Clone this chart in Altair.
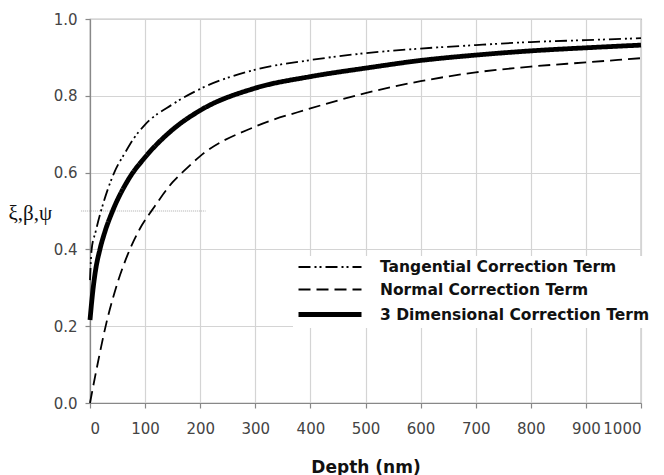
import altair as alt
import pandas as pd

# Tangential correction term (xi)
tang_depth = [0, 3, 10, 20, 44, 65, 80, 100, 150, 200, 300, 400, 500, 600, 700, 800, 900, 1000]
tang_val = [0.32, 0.40, 0.445, 0.50, 0.60, 0.655, 0.69, 0.725, 0.778, 0.818, 0.868, 0.893, 0.911, 0.923, 0.932, 0.940, 0.945, 0.950]

# Normal correction term (beta)
norm_depth = [0, 15, 30, 45, 68, 91, 114, 150, 171, 200, 300, 400, 500, 600, 700, 800, 900, 1000]
norm_val = [0.0, 0.11, 0.21, 0.29, 0.385, 0.455, 0.505, 0.575, 0.605, 0.643, 0.72, 0.767, 0.807, 0.838, 0.861, 0.876, 0.887, 0.898]

# 3 dimensional correction term (psi)
three_depth = [0, 5, 10, 18, 28, 41, 71, 100, 150, 200, 300, 400, 500, 600, 700, 800, 900, 1000]
three_val = [0.216, 0.29, 0.345, 0.40, 0.45, 0.50, 0.585, 0.64, 0.712, 0.762, 0.82, 0.85, 0.872, 0.892, 0.906, 0.917, 0.925, 0.932]

series_names = ["Tangential Correction Term", "Normal Correction Term", "3 Dimensional Correction Term"]

x_ticks = [0, 100, 200, 300, 400, 500, 600, 700, 800, 900, 1000]
y_ticks = [0.0, 0.2, 0.4, 0.6, 0.8, 1.0]

# faint leader line at 0.5
leader_x = [-16, 210]
leader_y = [0.5, 0.5]

rows = []
for name, xs, ys in zip(series_names, [tang_depth, norm_depth, three_depth], [tang_val, norm_val, three_val]):
    for xv, yv in zip(xs, ys):
        rows.append({"series": name, "depth": xv, "value": yv})
df = pd.DataFrame(rows)

leader_df = pd.DataFrame({"x": [leader_x[0]], "x2": [leader_x[1]], "y": [leader_y[0]]})

font = "DejaVu Sans"

xscale = alt.Scale(domain=[0, 1000], nice=False, zero=False)
yscale = alt.Scale(domain=[0, 1.0], nice=False)

legend = alt.Legend(title=None, orient="none", legendX=203, legendY=237,
                    symbolType="M-1,0H8", symbolSize=196, symbolStrokeColor="black",
                    labelFont=font, labelFontSize=15.5, labelFontWeight="bold",
                    labelColor="#111", labelOffset=65, labelLimit=500, rowPadding=5.5,
                    fillColor="white", padding=3)

lines = alt.Chart(df).mark_line(interpolate="monotone", color="black").encode(
    x=alt.X("depth:Q", scale=xscale,
            axis=alt.Axis(values=x_ticks, title="Depth (nm)", format="d")),
    y=alt.Y("value:Q", scale=yscale,
            axis=alt.Axis(values=y_ticks, format=".1f", title="ξ,β,ψ")),
    strokeDash=alt.StrokeDash("series:N",
        scale=alt.Scale(type="ordinal", domain=series_names,
                        range=[[12, 4, 2, 3, 2, 4], [12, 6], [1, 0]]),
        legend=legend),
    strokeWidth=alt.StrokeWidth("series:N",
        scale=alt.Scale(type="ordinal", domain=series_names, range=[1.8, 1.8, 4.8]),
        legend=legend),
    order=alt.Order("depth:Q"),
)

leader = alt.Chart(leader_df).mark_rule(color="#aaaaaa", strokeDash=[1, 1], strokeWidth=1).encode(
    x=alt.X("x:Q", scale=xscale),
    x2="x2:Q",
    y=alt.Y("y:Q", scale=yscale),
)

chart = alt.layer(leader, lines).properties(
    width=551, height=384,
    padding={"left": 0, "top": 4, "right": 0, "bottom": 0},
).configure_view(
    stroke="#888888", strokeWidth=1.2
).configure_axis(
    gridColor="#d4d4d4", gridWidth=1.2,
    domainColor="#888888", domainWidth=1.2,
    tickColor="#888888", tickSize=5, tickWidth=1.2,
    labelFont=font, labelFontSize=15, labelColor="#444444",
).configure_axisX(
    labelPadding=13,
    titleFont=font, titleFontSize=17, titleFontWeight="bold", titleColor="#111",
    titlePadding=23,
).configure_axisY(
    labelPadding=8,
    titleFont="Liberation Serif", titleFontSize=21, titleFontWeight="normal", titleColor="#111",
    titleAngle=0, titleAlign="left", titleBaseline="middle", titleX=-82, titleY=194,
)

chart.save("out.html", embed_options={"renderer": "svg", "actions": False})
